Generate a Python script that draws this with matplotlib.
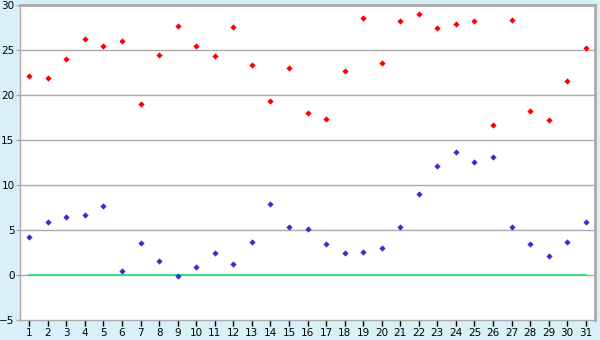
import matplotlib
matplotlib.use("Agg")
import matplotlib.pyplot as plt

# ---------------------------------------------------------------------------
# data
# ---------------------------------------------------------------------------
days = list(range(1, 32))
high = [22.1, 21.9, 24.0, 26.2, 25.4, 26.0, 19.0, 24.4, 27.7, 25.4,
        24.3, 27.6, 23.3, 19.3, 23.0, 18.0, 17.3, 22.7, 28.6, 23.6,
        28.2, 29.0, 27.5, 27.9, 28.2, 16.7, 28.3, 18.2, 17.2, 21.6, 25.2]
low = [4.2, 5.9, 6.4, 6.7, 7.7, 0.5, 3.6, 1.6, -0.1, 0.9,
       2.5, 1.2, 3.7, 7.9, 5.3, 5.1, 3.5, 2.4, 2.6, 3.0,
       5.3, 9.0, 12.1, 13.7, 12.6, 13.1, 5.3, 3.5, 2.1, 3.7, 5.9]
y_ticks = [-5, 0, 5, 10, 15, 20, 25, 30]

BG = "#daf0f8"
GRID = "#aaaaaa"

fig = plt.figure(figsize=(6.0, 3.4), dpi=100)
fig.patch.set_facecolor(BG)
ax = fig.add_axes([20 / 600, 1 - 320 / 340, 575 / 600, 315 / 340])
ax.set_facecolor("white")

# horizontal grid
for t in y_ticks[1:]:
    ax.axhline(t, color=GRID, linewidth=1.0, zorder=1)

# zero line spanning the data range
ax.plot([days[0], days[-1]], [0, 0], color="#22e07a", linewidth=1.2, zorder=2)

ax.plot(days, high, linestyle="none", marker="D", markersize=3.2,
        color="#ff0000", markeredgewidth=0, zorder=3)
ax.plot(days, low, linestyle="none", marker="D", markersize=3.2,
        color="#3333cc", markeredgewidth=0, zorder=3)

ax.set_xlim(0.5, 31.5)
ax.set_ylim(-5, 30)
ax.set_xticks(days)
ax.set_yticks(y_ticks)
ax.tick_params(axis="both", colors="#000000", labelsize=7.5, length=4,
               width=1, pad=1.5)
ax.tick_params(axis="y", color=GRID, length=3, pad=1)

for side in ("left", "bottom"):
    ax.spines[side].set_color(GRID)
    ax.spines[side].set_linewidth(1.0)
for side in ("top", "right"):
    ax.spines[side].set_color(GRID)
    ax.spines[side].set_linewidth(2.0)

fig.savefig("out.png", dpi=100, facecolor=fig.get_facecolor())
